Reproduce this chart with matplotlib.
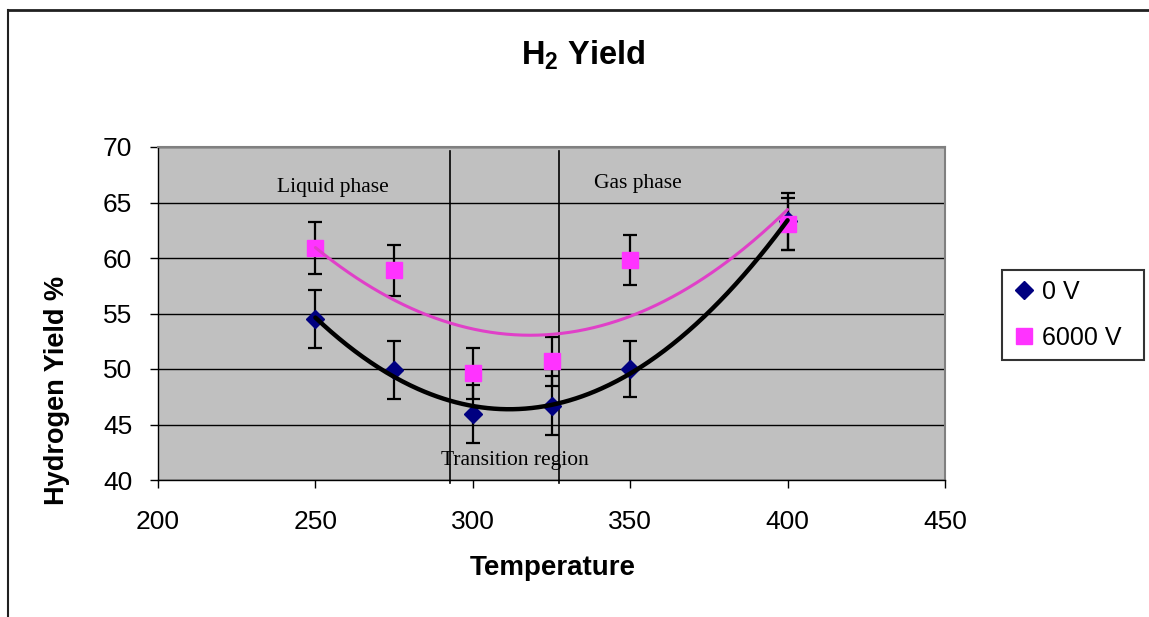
import numpy as np
import matplotlib
matplotlib.use("Agg")
import matplotlib.pyplot as plt
from matplotlib.lines import Line2D

# ---- data ----
temps = [250, 275, 300, 325, 350, 400]
yield_0v = [54.5, 49.9, 45.95, 46.7, 50.0, 63.3]
yield_6000v = [60.9, 58.9, 49.6, 50.7, 59.8, 63.1]
err_0v = [2.65, 2.6, 2.65, 2.65, 2.55, 2.55]
err_6000v = [2.3, 2.3, 2.3, 2.2, 2.25, 2.35]
series_labels = ["0 V", "6000 V"]
x_ticks = [200, 250, 300, 350, 400, 450]
y_ticks = [40, 45, 50, 55, 60, 65, 70]
phase_bounds = [292.6, 327.5]
region_labels = ["Liquid phase", "Gas phase", "Transition region"]

W, H = 1149, 617
fig = plt.figure(figsize=(W / 100, H / 100), dpi=100)
fig.patch.set_facecolor("white")

ax = fig.add_axes([158 / W, 1 - 480 / H, (945 - 158) / W, (480 - 147) / H])
ax.set_facecolor("#C0C0C0")
ax.set_xlim(200, 450)
ax.set_ylim(40, 70)
ax.set_xticks(x_ticks)
ax.set_yticks(y_ticks)

sans = ["Liberation Sans", "DejaVu Sans"]
serif = ["Liberation Serif", "DejaVu Serif"]

ax.grid(axis="y", color="black", linewidth=1.0)
ax.set_axisbelow(True)
for s in ["left", "bottom"]:
    ax.spines[s].set_color("black")
    ax.spines[s].set_linewidth(1.0)
for s in ["top", "right"]:
    ax.spines[s].set_color("#808080")
    ax.spines[s].set_linewidth(1.5)

ax.tick_params(axis="both", direction="out", length=5.5, width=1.0, colors="black")
ax.tick_params(axis="y", pad=13)
ax.tick_params(axis="x", pad=16)
for lab in ax.get_xticklabels() + ax.get_yticklabels():
    lab.set_fontfamily(sans)
    lab.set_fontsize(19)

# phase boundary lines
for xb in phase_bounds:
    ax.plot([xb, xb], [69.65, 39.7], color="black", linewidth=1.2, clip_on=False, zorder=2)

# error bars
ax.errorbar(temps, yield_0v, yerr=err_0v, fmt="none", ecolor="black",
            elinewidth=1.6, capsize=5.3, capthick=1.6, zorder=3)
ax.errorbar(temps, yield_6000v, yerr=err_6000v, fmt="none", ecolor="black",
            elinewidth=1.6, capsize=5.3, capthick=1.6, zorder=3)

# markers
h0, = ax.plot(temps, yield_0v, linestyle="none", marker="D", markersize=8.8,
              color="#000080", label=series_labels[0], zorder=4)
h1, = ax.plot(temps, yield_6000v, linestyle="none", marker="s", markersize=11.5,
              color="#FF33FF", label=series_labels[1], zorder=4)

# polynomial trendlines
xs = np.linspace(min(temps), max(temps), 300)
p0 = np.polyfit(temps, yield_0v, 2)
p1 = np.polyfit(temps, yield_6000v, 2)
ax.plot(xs, np.polyval(p1, xs), color="#E040C8", linewidth=2.2, zorder=5,
        solid_capstyle="round")
ax.plot(xs, np.polyval(p0, xs), color="black", linewidth=3.2, zorder=5,
        solid_capstyle="round")

# region labels
ax.text(255.5, 65.92, region_labels[0], ha="center", va="baseline",
        fontfamily=serif, fontsize=15.5, color="black")
ax.text(352.3, 66.33, region_labels[1], ha="center", va="baseline",
        fontfamily=serif, fontsize=15.5, color="black")
ax.text(313.5, 41.35, region_labels[2], ha="center", va="baseline",
        fontfamily=serif, fontsize=15.5, color="black")

# axis labels and title
ax.set_xlabel("Temperature", fontfamily=sans, fontsize=20, fontweight="bold", labelpad=12)
ax.set_ylabel("Hydrogen Yield %", fontfamily=sans, fontsize=19.5, fontweight="bold")
ax.yaxis.set_label_coords((70 - 158) / 787, (480 - 390) / 333)
ax.xaxis.set_label_coords((553 - 158) / 787, -(568 - 480) / 333)
ax.xaxis.label.set_va("center")

fig.text(583 / W, 1 - 55 / H, "H$_\\mathregular{2}$ Yield", ha="center", va="center",
         fontfamily=sans, fontsize=23.5, fontweight="bold")

# legend
leg = fig.legend(handles=[h0, h1], labels=series_labels,
                 loc="upper left",
                 bbox_to_anchor=(1001.5 / W, 1 - 270 / H - 0.01, (1144 - 1001.5) / W, 0.01),
                 mode="expand", borderaxespad=0, borderpad=0.4,
                 labelspacing=0.88, handlelength=1.0, handletextpad=0.2,
                 fancybox=False, frameon=True,
                 prop={"family": sans, "size": 18})
leg.get_frame().set_edgecolor("black")
leg.get_frame().set_linewidth(1.5)

# chart-area border (top and left visible)
fig.add_artist(Line2D([7.5 / W, 7.5 / W], [1 - 9.5 / H, -0.05], transform=fig.transFigure,
                      color="#202020", linewidth=1.5))
fig.add_artist(Line2D([7.5 / W, 1.05], [1 - 9.5 / H, 1 - 9.5 / H], transform=fig.transFigure,
                      color="#202020", linewidth=2.0))

fig.savefig("out.png", dpi=100)
